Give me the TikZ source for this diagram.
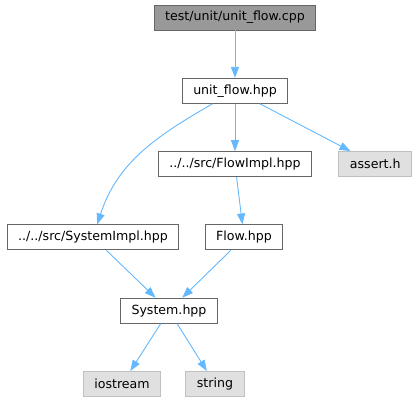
\documentclass[tikz,border=0pt]{standalone}
\usepackage{fontspec}
\setmainfont{DejaVu Sans}
\usepackage{xcolor}
\usepackage{tikz}
\usetikzlibrary{arrows.meta, positioning}

\definecolor{edgeblue}{HTML}{63B8FF}
\definecolor{mainfill}{HTML}{999999}
\definecolor{sysfill}{HTML}{E0E0E0}
\definecolor{sysborder}{HTML}{BFBFBF}
\definecolor{fileborder}{HTML}{666666}

\begin{document}
\begin{tikzpicture}[
    node distance=73.3pt,
    file/.style={rectangle, draw=fileborder, fill=white, line width=0.9pt, inner xsep=11pt, minimum height=25pt, font=\fontsize{12.6pt}{15pt}\selectfont},
    mainfile/.style={file, fill=mainfill},
    syshdr/.style={file, draw=sysborder, fill=sysfill},
    arrow/.style={draw=edgeblue, line width=0.9pt, -{Triangle[length=11pt, width=8pt]}}
]
    \useasboundingbox (-235pt,17.5pt) rectangle (183pt,-385.5pt);

    \node (main) [mainfile] {test/unit/unit\_flow.cpp};
    \node (unitflow) [file, below of=main] {unit\_flow.hpp};
    \node (flowimpl) [file, below of=unitflow] {../../src/FlowImpl.hpp};
    \node (assert) [syshdr, right of=flowimpl, xshift=67pt] {assert.h};
    \node (sysimpl) [file, below of=flowimpl, xshift=-142pt] {../../src/SystemImpl.hpp};
    \node (flow) [file, below of=flowimpl, xshift=9pt] {Flow.hpp};
    \node (system) [file, below of=sysimpl, xshift=76pt] {System.hpp};
    \node (iostream) [syshdr, below of=system, xshift=-47pt] {iostream};
    \node (string) [syshdr, below of=system, xshift=46pt] {string};

    \draw [arrow] (main) -- (unitflow);
    \draw [arrow] (unitflow) -- (flowimpl);
    \draw [arrow] (unitflow) -- (assert);
    \draw [arrow] (unitflow) to[out=-150, in=72] (sysimpl);
    \draw [arrow] (flowimpl) -- (flow);
    \draw [arrow] (sysimpl) -- (system);
    \draw [arrow] (flow) -- (system);
    \draw [arrow] (system) -- (iostream);
    \draw [arrow] (system) -- (string);
\end{tikzpicture}
\end{document}
